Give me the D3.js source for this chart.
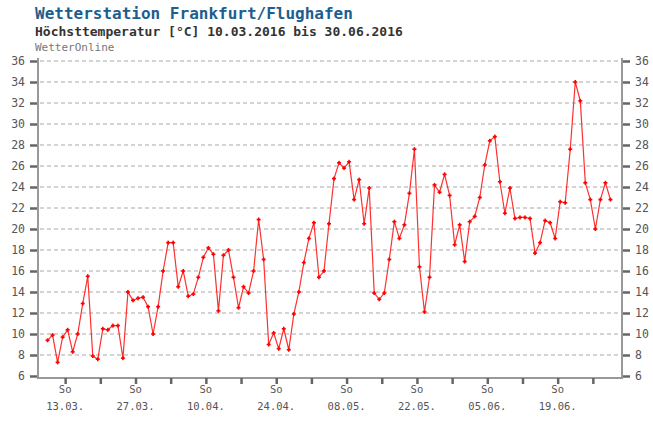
<!DOCTYPE html>
<meta charset="utf-8">
<html>
<head>
	<script src="https://d3js.org/d3.v7.min.js"></script>
	<style>
		body { margin: 0; background: #fff; }
		text { font-family: "DejaVu Sans Mono", monospace; }
	</style>
</head>
<body>
<div id="chart"></div>
<script>

// Tageshöchstwerte, 10.03.2016 (Tag 0) bis 30.06.2016 (Tag 112)
var tmax = [
  9.4, 9.9, 7.3, 9.7, 10.4, 8.3, 10.0, 12.9, 15.5, 7.9,
  7.6, 10.5, 10.4, 10.8, 10.8, 7.7, 14.0, 13.2, 13.4, 13.5,
  12.6, 10.0, 12.6, 16.0, 18.7, 18.7, 14.5, 16.0, 13.6, 13.8,
  15.4, 17.3, 18.2, 17.6, 12.2, 17.5, 18.0, 15.4, 12.5, 14.5,
  13.9, 16.0, 20.9, 17.1, 9.0, 10.1, 8.6, 10.5, 8.5, 11.9,
  14.0, 16.8, 19.1, 20.6, 15.4, 16.0, 20.5, 24.8, 26.3, 25.8,
  26.4, 22.8, 24.7, 20.5, 23.9, 13.9, 13.3, 13.9, 17.1, 20.7,
  19.1, 20.4, 23.4, 27.6, 16.4, 12.1, 15.4, 24.2, 23.5, 25.2,
  23.2, 18.5, 20.4, 16.9, 20.7, 21.2, 23.0, 26.1, 28.4, 28.8,
  24.5, 21.5, 23.9, 21.0, 21.1, 21.1, 21.0, 17.7, 18.7, 20.8,
  20.6, 19.1, 22.6, 22.5, 27.6, 34.0, 32.2, 24.4, 22.8, 20.0,
  22.8, 24.4, 22.8
];
var yTicks = d3.range(6, 37, 2);
var sonntage = d3.range(3, 113, 7);          // Sonntage als Tagindex
var sonntagLabels = ["13.03.", "27.03.", "10.04.", "24.04.", "08.05.", "22.05.", "05.06.", "19.06."];

var W = 653, H = 421;
var pL = 38, pR = 622, pT = 61, pB = 376;

var svg = d3.select("#chart")
  .append("svg")
    .attr("width", W)
    .attr("height", H);

var x = d3.scaleLinear()
  .domain([-1.9, 114.3])
  .range([pL, pR]);

var y = d3.scaleLinear()
  .domain([6, 36])
  .range([pB, pT]);

// Titel
svg.append("text")
  .attr("x", 35).attr("y", 19)
  .style("font-size", "16px").style("font-weight", "bold")
  .attr("fill", "#1d5e8e")
  .text("Wetterstation Frankfurt/Flughafen");
svg.append("text")
  .attr("x", 35).attr("y", 36)
  .style("font-size", "13px").style("font-weight", "bold")
  .attr("fill", "#333")
  .text("Höchsttemperatur [°C] 10.03.2016 bis 30.06.2016");
svg.append("text")
  .attr("x", 35).attr("y", 51)
  .style("font-size", "11px")
  .attr("fill", "#777")
  .text("WetterOnline");

// Gitterlinien
svg.append("g")
  .selectAll("line")
  .data(yTicks.filter(function(d) { return d > 6; }))
  .enter().append("line")
    .attr("x1", pL + 2).attr("x2", pR - 2)
    .attr("y1", function(d) { return y(d); })
    .attr("y2", function(d) { return y(d); })
    .attr("stroke", "#aaa")
    .attr("stroke-width", 1.2)
    .attr("stroke-dasharray", "4,3");

// Rahmen
svg.append("path")
  .attr("d", "M" + pL + "," + (pT - 3) + "V" + (pB + 2) + "H" + pR + "V" + (pT - 3))
  .attr("fill", "none")
  .attr("stroke", "#999")
  .attr("stroke-width", 2);

// Y-Achsen links und rechts
var yl = d3.axisLeft(y).tickValues(yTicks).tickSize(7).tickPadding(5);
var yr = d3.axisRight(y).tickValues(yTicks).tickSize(7).tickPadding(5);

svg.append("g").attr("class", "yl")
  .attr("transform", "translate(" + (pL - 1) + ",0)")
  .call(yl);
svg.append("g").attr("class", "yr")
  .attr("transform", "translate(" + (pR + 1) + ",0)")
  .call(yr);

svg.selectAll(".yl .domain, .yr .domain").remove();
svg.selectAll(".yl line, .yr line")
  .attr("stroke", "#666")
  .attr("stroke-width", 2.5);
svg.selectAll(".yl text, .yr text")
  .style("font-size", "11.5px")
  .attr("fill", "#555");

// X-Achse (Sonntage)
var xa = d3.axisBottom(x)
  .tickValues(sonntage.map(function(d) { return d + 0.5; }))
  .tickSize(6)
  .tickFormat("");
svg.append("g").attr("class", "xa")
  .attr("transform", "translate(0," + (pB + 2) + ")")
  .call(xa);
svg.select(".xa .domain").remove();
svg.selectAll(".xa line")
  .attr("stroke", "#666")
  .attr("stroke-width", 2.5);

var lab = svg.append("g")
  .selectAll("g")
  .data(sonntagLabels)
  .enter().append("g")
    .attr("transform", function(d, i) {
      return "translate(" + x(sonntage[i * 2] + 0.5) + ",0)";
    });
lab.append("text")
  .attr("y", 393)
  .attr("text-anchor", "middle")
  .style("font-size", "10.5px")
  .attr("fill", "#555")
  .text("So");
lab.append("text")
  .attr("y", 410)
  .attr("text-anchor", "middle")
  .style("font-size", "10.5px")
  .attr("fill", "#555")
  .text(function(d) { return d; });

// Kurve
var linie = d3.line()
  .x(function(d, i) { return x(i); })
  .y(function(d) { return y(d); });

svg.append("path")
  .datum(tmax)
  .attr("d", linie)
  .attr("fill", "none")
  .attr("stroke", "#ff3030")
  .attr("stroke-width", 1.2);

var pkt = svg.append("g")
  .selectAll("g")
  .data(tmax)
  .enter().append("g")
    .attr("transform", function(d, i) { return "translate(" + x(i) + "," + y(d) + ")"; });
pkt.append("rect")
  .attr("x", -2).attr("y", -0.8)
  .attr("width", 4).attr("height", 1.6)
  .attr("fill", "#f00");
pkt.append("rect")
  .attr("x", -0.8).attr("y", -2)
  .attr("width", 1.6).attr("height", 4)
  .attr("fill", "#f00");

</script>
</body>
</html>
